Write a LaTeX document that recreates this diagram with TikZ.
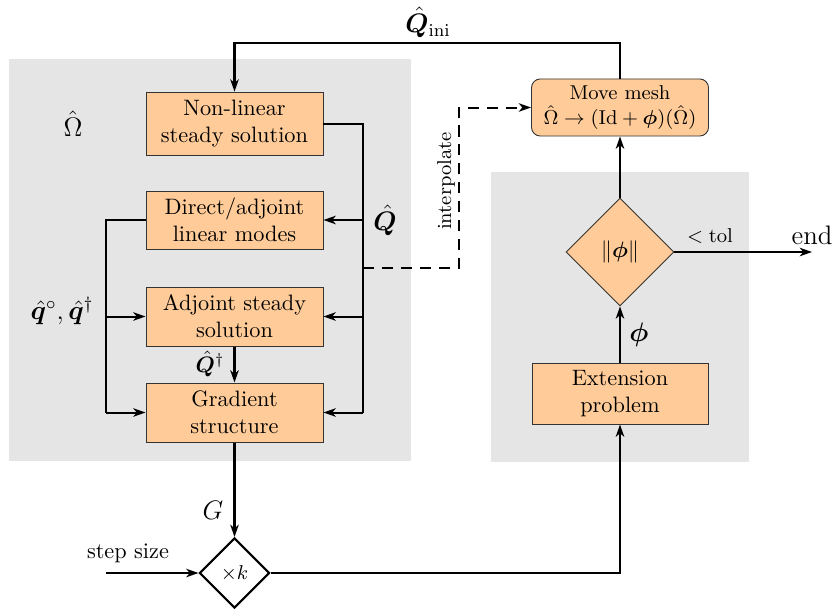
\documentclass[tikz,border=0pt]{standalone}
\usepackage{amsmath,bm}
\usetikzlibrary{shapes.geometric,arrows.meta}
\definecolor{boxfill}{RGB}{255,204,153}
\definecolor{bgfill}{RGB}{229,229,229}
\tikzset{
  block/.style={draw=black!80,line width=0.4pt,fill=boxfill,align=center,inner sep=1pt,
    minimum width=79.4pt},
  conn/.style={line width=0.9pt},
  arr/.style={line width=0.9pt,-{Stealth[length=5.5pt,width=3.8pt,inset=1.6pt]}},
  lbl/.style={inner sep=0pt},
}
\begin{document}
\begin{tikzpicture}[x=0.4484pt,y=-0.4484pt]
\useasboundingbox (0,0) rectangle (835,613);
% background regions
\fill[bgfill] (9,59) rectangle (411,461);
\fill[bgfill] (491,172) rectangle (749,462);
% blocks
\node[block,minimum height=28.2pt] (nl) at (234.5,123.5) {Non-linear\\steady solution};
\node[block,minimum height=26pt] (dl) at (234.5,220) {Direct/adjoint\\linear modes};
\node[block,minimum height=26.5pt] (as) at (234.5,316.5) {Adjoint steady\\solution};
\node[block,minimum height=26.5pt] (gs) at (234.5,412.5) {Gradient\\structure};
\node[block,rounded corners=4pt,minimum height=25.6pt,font=\small] (mm) at (620,107.5) {Move mesh\\$\hat\Omega\rightarrow(\mathrm{Id}+\bm{\phi})(\hat\Omega)$};
\node[block,minimum width=78.9pt,minimum height=27.4pt] (ep) at (620,393.5) {Extension\\problem};
\node[diamond,draw=black!80,line width=0.4pt,fill=boxfill,inner sep=0pt,minimum size=48.4pt] (dp) at (620,252) {$\|\bm{\phi}\|$};
\node[diamond,draw=black,line width=0.9pt,fill=white,inner sep=0pt,minimum size=31.4pt,font=\small] (dk) at (234.5,573) {$\times k$};
% coordinates
\coordinate (qtop) at (0,43);
\coordinate (busR) at (363,0);
\coordinate (busL) at (106,0);
\coordinate (dstart) at (363,268);
\coordinate (dcol) at (459,0);
\coordinate (endpt) at (812,252);
\coordinate (stepst) at (106,573);
% connectors
\draw[arr] (mm.north) -- (mm.north |- qtop) -| (nl.north);
\draw[conn] (nl.east) -| (busR |- gs.east);
\draw[arr] (busR |- dl.east) -- (dl.east);
\draw[arr] (busR |- as.east) -- (as.east);
\draw[arr] (busR |- gs.east) -- (gs.east);
\draw[conn] (dl.west) -| (busL |- gs.west);
\draw[arr] (busL |- as.west) -- (as.west);
\draw[arr] (busL |- gs.west) -- (gs.west);
\draw[arr] (as.south) -- (gs.north);
\draw[arr,dashed,dash pattern=on 5pt off 3.5pt] (dstart) -| (dcol |- mm.west) -- (mm.west);
\draw[arr] (dp.north) -- (mm.south);
\draw[arr] (ep.north) -- (dp.south);
\draw[arr] (dp.east) -- (endpt);
\draw[arr] (gs.south) -- (dk.north);
\draw[arr] (stepst) -- (dk.west);
\draw[arr] (dk.east) -| (ep.south);
% labels
\node[lbl,font=\large] (lqini) at (428,22) {$\hat{\bm{Q}}_{\mathrm{ini}}$};
\node[lbl,font=\large] (lom) at (73,124) {$\hat\Omega$};
\node[lbl,font=\large] (lq) at (385,220) {$\hat{\bm{Q}}$};
\node[lbl,font=\large] (lqq) at (62,311) {$\hat{\bm{q}}^\circ,\hat{\bm{q}}^\dagger$};
\node[lbl] (lqd) at (210,364) {$\hat{\bm{Q}}^\dagger$};
\node[lbl,font=\small,rotate=90] (linterp) at (446,181) {interpolate};
\node[lbl,font=\small] (ltol) at (710,236) {$<\mathrm{tol}$};
\node[lbl,font=\large] (lend) at (812,235) {end};
\node[lbl,font=\large] (lphi) at (639,335) {$\bm{\phi}$};
\node[lbl,font=\large] (lG) at (213,510) {$G$};
\node[lbl] (lstep) at (128,553) {step size};
\end{tikzpicture}
\end{document}
